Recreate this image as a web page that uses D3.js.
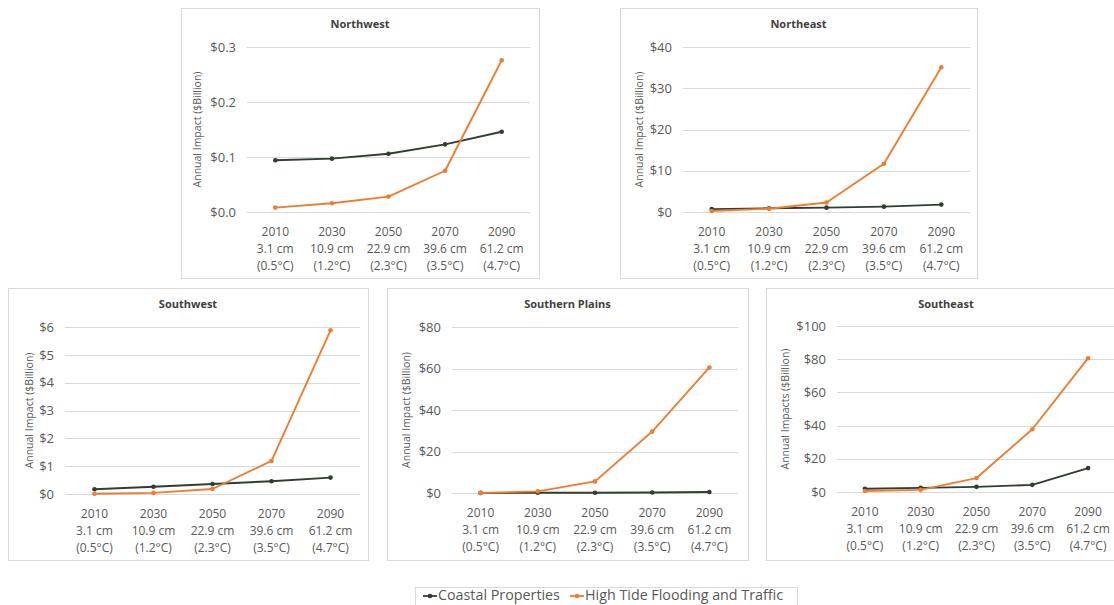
<!DOCTYPE html>
<html>
<head>
<meta charset="utf-8">
<script src="https://cdn.jsdelivr.net/npm/d3@7"></script>
<style>
html,body{margin:0;padding:0;background:#fff;}
svg{display:block;font-family:"Open Sans",sans-serif;}
</style>
</head>
<body>
<svg id="chart" width="1114" height="605"></svg>
<script>
// ---- data ----
const categories = ["2010", "2030", "2050", "2070", "2090"];
const seaLevels = ["3.1 cm", "10.9 cm", "22.9 cm", "39.6 cm", "61.2 cm"];
const temperatures = ["(0.5°C)", "(1.2°C)", "(2.3°C)", "(3.5°C)", "(4.7°C)"];
const regions = ["Northwest", "Northeast", "Southwest", "Southern Plains", "Southeast"];
const axisTitles = ["Annual Impact ($Billion)", "Annual Impact ($Billion)", "Annual Impact ($Billion)", "Annual Impact ($Billion)", "Annual Impacts ($Billion)"];
const seriesNames = ["Coastal Properties", "High Tide Flooding and Traffic"];

const coastalNW = [0.094, 0.097, 0.106, 0.123, 0.146];
const tideNW    = [0.008, 0.016, 0.028, 0.075, 0.276];
const coastalNE = [0.7, 0.9, 1.05, 1.3, 1.8];
const tideNE    = [0.25, 0.8, 2.3, 11.7, 35.1];
const coastalSW = [0.17, 0.26, 0.36, 0.46, 0.59];
const tideSW    = [0.01, 0.04, 0.18, 1.19, 5.88];
const coastalSP = [0.05, 0.1, 0.15, 0.25, 0.45];
const tideSP    = [0.05, 0.8, 5.6, 29.6, 60.5];
const coastalSE = [2.0, 2.5, 3.1, 4.3, 14.4];
const tideSE    = [0.6, 1.3, 8.4, 37.8, 80.6];

const yTicksNW = [0, 0.1, 0.2, 0.3];
const yTicksNE = [0, 10, 20, 30, 40];
const yTicksSW = [0, 1, 2, 3, 4, 5, 6];
const yTicksSP = [0, 20, 40, 60, 80];
const yTicksSE = [0, 20, 40, 60, 80, 100];

const coastalData = [coastalNW, coastalNE, coastalSW, coastalSP, coastalSE];
const tideData = [tideNW, tideNE, tideSW, tideSP, tideSE];
const yTicks = [yTicksNW, yTicksNE, yTicksSW, yTicksSP, yTicksSE];
const tickFormats = ["$.1f", "$.0f", "$.0f", "$.0f", "$.0f"];

// ---- layout ----
const frames = [
  {x:181, y:8,   w:358, h:270},
  {x:620, y:8,   w:357, h:270},
  {x:8,   y:288, w:360, h:272},
  {x:387, y:288, w:361, h:272},
  {x:766, y:288, w:360, h:272}
];
const plots = [
  {l:247, r:530,  t:47,  b:212},
  {l:683, r:970,  t:47,  b:212},
  {l:65,  r:360,  t:327, b:494},
  {l:452, r:738,  t:327, b:493},
  {l:837, r:1116, t:326, b:492}
];
const yTitleX = [198, 640, 30, 407, 786];

const colorCoastal = "#2f3e2f";
const colorTide = "#ed7d31";
const textColor = "#595959";
const gridColor = "#d9d9d9";

const svg = d3.select("#chart");

regions.forEach((name, i) => {
  const f = frames[i], p = plots[i];
  const g = svg.append("g");

  g.append("rect")
    .attr("x", f.x + 0.5).attr("y", f.y + 0.5)
    .attr("width", f.w).attr("height", f.h)
    .attr("fill", "#fff").attr("stroke", gridColor).attr("stroke-width", 1);

  const x = d3.scaleBand().domain(categories).range([p.l, p.r]).padding(0);
  const ticks = yTicks[i];
  const y = d3.scaleLinear().domain([0, ticks[ticks.length - 1]]).range([p.b, p.t]);

  // gridlines
  g.append("g").selectAll("line").data(ticks).join("line")
    .attr("x1", p.l).attr("x2", p.r)
    .attr("y1", d => Math.round(y(d)) + 0.5).attr("y2", d => Math.round(y(d)) + 0.5)
    .attr("stroke", gridColor).attr("stroke-width", 1);

  // y axis labels
  const yAxis = d3.axisLeft(y).tickValues(ticks).tickFormat(d3.format(tickFormats[i])).tickSize(0).tickPadding(11);
  const ya = g.append("g").attr("transform", `translate(${p.l},0)`).call(yAxis);
  ya.select(".domain").remove();
  ya.selectAll("text").attr("fill", textColor).style("font-size", "13px").style("font-family", "Open Sans");

  // x axis labels (three lines)
  const xa = g.append("g").selectAll("text").data(categories).join("text")
    .attr("x", d => x(d) + x.bandwidth() / 2)
    .attr("y", p.b + 24)
    .attr("text-anchor", "middle")
    .attr("fill", textColor)
    .style("font-size", "12px");
  xa.append("tspan").attr("x", d => x(d) + x.bandwidth() / 2).attr("dy", 0).text(d => d);
  xa.append("tspan").attr("x", d => x(d) + x.bandwidth() / 2).attr("dy", 17).text((d, j) => seaLevels[j]);
  xa.append("tspan").attr("x", d => x(d) + x.bandwidth() / 2).attr("dy", 17).text((d, j) => temperatures[j]);

  // title
  g.append("text")
    .attr("x", f.x + f.w / 2).attr("y", f.y + 20)
    .attr("text-anchor", "middle")
    .attr("fill", "#404040")
    .style("font-size", "11px").style("font-weight", "bold")
    .text(name);

  // y title
  g.append("text")
    .attr("transform", `translate(${yTitleX[i]},${(p.t + p.b) / 2}) rotate(-90)`)
    .attr("text-anchor", "middle")
    .attr("dominant-baseline", "middle")
    .attr("fill", textColor)
    .style("font-size", "10.5px")
    .text(axisTitles[i]);

  const line = d3.line().x((d, j) => x(categories[j]) + x.bandwidth() / 2).y(d => y(d));

  [[coastalData[i], colorCoastal], [tideData[i], colorTide]].forEach(([vals, col]) => {
    g.append("path").datum(vals)
      .attr("d", line).attr("fill", "none")
      .attr("stroke", col).attr("stroke-width", 1.9)
      .attr("stroke-linejoin", "round");
    g.append("g").selectAll("circle").data(vals).join("circle")
      .attr("cx", (d, j) => x(categories[j]) + x.bandwidth() / 2)
      .attr("cy", d => y(d))
      .attr("r", 2.3).attr("fill", col);
  });
});

// ---- legend ----
const lg = svg.append("g");
lg.append("rect").attr("x", 415.5).attr("y", 587.5).attr("width", 382).attr("height", 30)
  .attr("fill", "#fff").attr("stroke", gridColor);
const legendItems = [
  {name: seriesNames[0], color: colorCoastal, x: 423},
  {name: seriesNames[1], color: colorTide, x: 570}
];
legendItems.forEach(it => {
  lg.append("line").attr("x1", it.x).attr("x2", it.x + 14).attr("y1", 596).attr("y2", 596)
    .attr("stroke", it.color).attr("stroke-width", 1.8);
  lg.append("circle").attr("cx", it.x + 7).attr("cy", 596).attr("r", 2.3).attr("fill", it.color);
  lg.append("text").attr("x", it.x + 15).attr("y", 600)
    .attr("fill", textColor).style("font-size", "14.3px").text(it.name);
});
</script>
</body>
</html>
